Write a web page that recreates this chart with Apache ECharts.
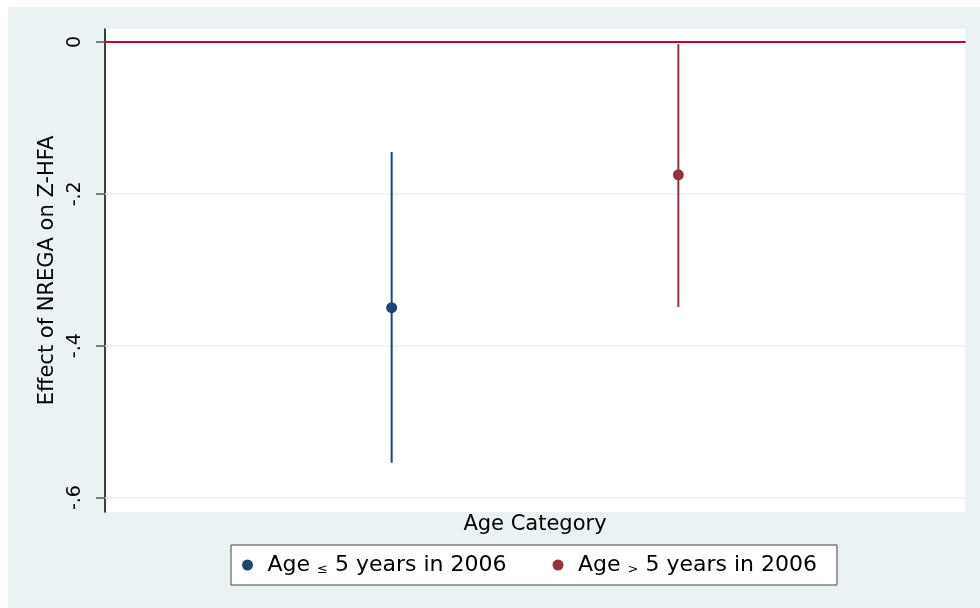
<!DOCTYPE html>
<html>
<head>
<meta charset="utf-8">
<script src="https://cdn.jsdelivr.net/npm/echarts@6/dist/echarts.min.js"></script>
<style>
  html, body { margin: 0; padding: 0; background: #ffffff; }
  #chart { position: absolute; left: 8px; top: 7px; width: 972px; height: 601px; }
</style>
</head>
<body>
<div id="chart"></div>
<script>
// Age groups placed on a 0..3 horizontal scale
const groupNames = ['Age \u2264 5 years in 2006', 'Age > 5 years in 2006'];
const groupPos = [1, 2];
// Point estimates and 95% confidence bounds
const estimates = [-0.35, -0.175];
const ciLow = [-0.554, -0.349];
const ciHigh = [-0.145, -0.003];
// Y axis ticks
const yTickValues = [0, -0.2, -0.4, -0.6];
const yTickLabels = ['0', '-.2', '-.4', '-.6'];
const gridValues = [-0.2, -0.4, -0.6];
const refValue = 0;

const colors = ['#1a476f', '#90353b'];
const FONT = 'DejaVu Sans';

const chart = echarts.init(document.getElementById('chart'));

const series = [];

// light horizontal grid lines
series.push({
  type: 'line', data: [], z: 1, silent: true,
  markLine: {
    z: 1, symbol: 'none', silent: true, label: { show: false },
    lineStyle: { color: '#eaf2f3', width: 1.5, type: 'solid' },
    data: gridValues.map(v => ({ yAxis: v }))
  }
});
// reference line at zero
series.push({
  type: 'line', data: [], z: 2, silent: true,
  markLine: {
    z: 2, symbol: 'none', silent: true, label: { show: false },
    lineStyle: { color: '#c10534', width: 2, type: 'solid' },
    data: [{ yAxis: refValue }]
  }
});
// confidence interval spikes
groupPos.forEach((x, i) => {
  series.push({
    name: 'ci' + i, type: 'line', z: 4, silent: true,
    showSymbol: false, symbol: 'none',
    lineStyle: { color: colors[i], width: 2 },
    data: [[x, ciLow[i]], [x, ciHigh[i]]]
  });
});
// point estimates
groupPos.forEach((x, i) => {
  series.push({
    name: groupNames[i], type: 'scatter', z: 5,
    symbol: 'circle', symbolSize: 11,
    itemStyle: { color: colors[i], opacity: 1 },
    data: [[x, estimates[i]]]
  });
});

const legendRich = {
  a: { fontFamily: FONT, fontSize: 22, color: '#000' },
  s: { fontFamily: FONT, fontSize: 13, color: '#000', verticalAlign: 'bottom', padding: [7, 0, 0, 0] }
};

chart.setOption({
  backgroundColor: '#eaf2f3',
  animation: false,
  textStyle: { fontFamily: FONT },
  grid: {
    left: 97, top: 22, right: 15, bottom: 96,
    show: true, backgroundColor: '#ffffff', borderWidth: 0
  },
  xAxis: {
    type: 'value', min: 0, max: 3, interval: 1,
    name: 'Age Category', nameLocation: 'middle', nameGap: 2,
    nameTextStyle: { fontFamily: FONT, fontSize: 21, color: '#000', verticalAlign: 'top' },
    axisLine: { show: true, lineStyle: { color: '#000', width: 1.5 } },
    axisTick: { show: false },
    axisLabel: { show: false },
    splitLine: { show: false }
  },
  yAxis: {
    type: 'value', min: -0.619, max: 0.017,
    name: 'Effect of NREGA on Z-HFA', nameLocation: 'middle', nameRotate: 90, nameGap: 47,
    nameTextStyle: { fontFamily: FONT, fontSize: 21, color: '#000' },
    axisLine: { show: true, lineStyle: { color: '#000', width: 1.5 } },
    axisTick: { show: true, length: 9, customValues: yTickValues, lineStyle: { color: '#555', width: 1.5 } },
    axisLabel: {
      show: true, rotate: 90, margin: 20, customValues: yTickValues,
      fontFamily: FONT, fontSize: 19, color: '#000',
      formatter: v => {
        const k = yTickValues.findIndex(t => Math.abs(t - v) < 1e-9);
        return k >= 0 ? yTickLabels[k] : '';
      }
    },
    splitLine: { show: false }
  },
  legend: {
    data: groupNames,
    left: 223, top: 538,
    orient: 'horizontal',
    backgroundColor: '#ffffff',
    borderColor: '#444', borderWidth: 1, borderRadius: 0,
    padding: [9, 20, 9, 11],
    itemWidth: 30, itemHeight: 11, itemGap: 46,
    icon: 'circle',
    itemStyle: { opacity: 1 },
    formatter: name => {
      const sym = name.indexOf('\u2264') >= 0 ? '\u2264' : '>';
      const parts = name.split(sym);
      return '{a|' + parts[0] + '}{s|' + sym + '}{a|' + parts[1] + '}';
    },
    textStyle: { rich: legendRich, fontFamily: FONT, fontSize: 22, color: '#000' }
  },
  series: series
});
</script>
</body>
</html>
